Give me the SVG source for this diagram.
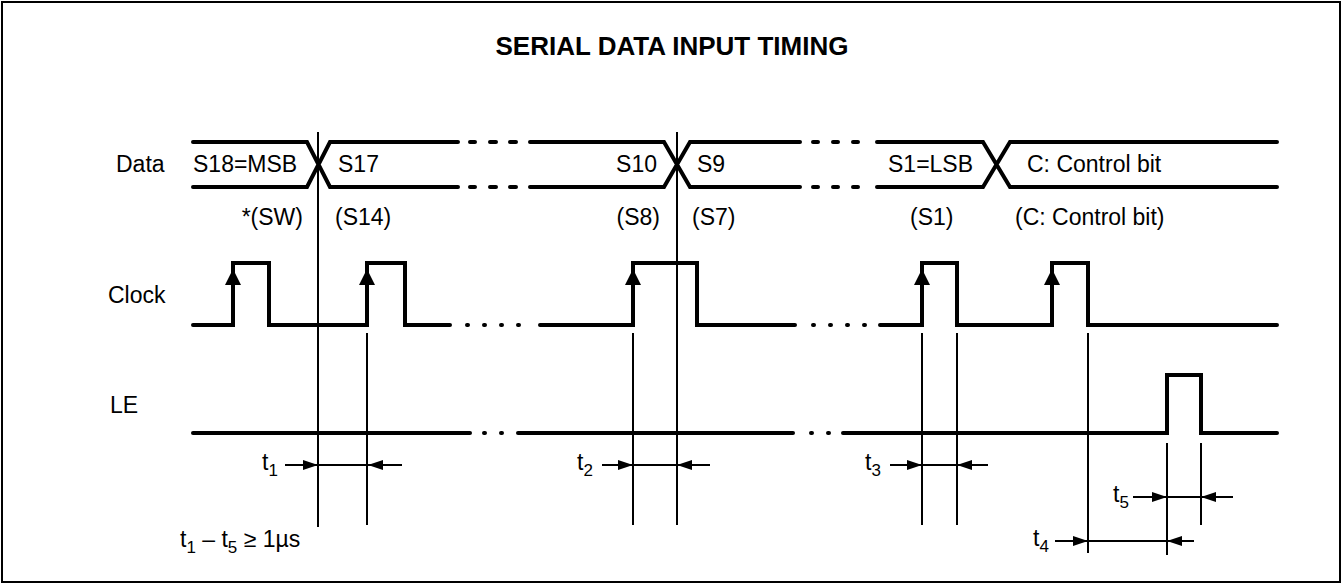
<svg xmlns="http://www.w3.org/2000/svg" xmlns:xlink="http://www.w3.org/1999/xlink" width="1343" height="585" viewBox="0 0 1343 585">
<style>
text{font-family:"Liberation Sans",Arial,Helvetica,sans-serif;font-size:23px;fill:#000}
.title{font-size:26px;font-weight:bold}
.sub{font-size:17px}
.w{stroke:#000;stroke-width:4;fill:none;stroke-linecap:round;stroke-linejoin:miter}
.d{stroke:#000;stroke-width:4;fill:none;stroke-linecap:round}
.t{stroke:#000;stroke-width:2;fill:none}
.a{stroke:#000;stroke-width:2;fill:none;marker-end:url(#ah)}
</style>
<defs>
<marker id="ah" viewBox="0 0 15 10" refX="15" refY="5" markerWidth="15" markerHeight="10" markerUnits="userSpaceOnUse" orient="auto"><path d="M0,0 L15,5 L0,10 z" fill="#000"/></marker>
<path id="up" d="M-8,16 L0,0 L8,16 z" fill="#000"/>
</defs>
<rect x="2" y="2" width="1338" height="580" fill="#fff" stroke="#000" stroke-width="2"/>
<text class="title" x="672" y="55" text-anchor="middle">SERIAL DATA INPUT TIMING</text>

<g id="data">
<text x="116" y="172">Data</text>
<path class="w" d="M193,142 H307 L330,187 H458 M193,187 H307 L330,142 H458"/>
<path class="d" d="M470,142 H475 M490,142 H496 M510,142 H516 M470,187 H475 M490,187 H496 M510,187 H516"/>
<path class="w" d="M530,142 H664 L690,187 H800 M530,187 H664 L690,142 H800"/>
<path class="d" d="M813,142 H818 M833,142 H838 M853,142 H858 M813,187 H818 M833,187 H838 M853,187 H858"/>
<path class="w" d="M877,142 H983 L1010,187 H1277 M877,187 H983 L1010,142 H1277"/>
<text x="193" y="172">S18=MSB</text>
<text x="338" y="172">S17</text>
<text x="657" y="172" text-anchor="end">S10</text>
<text x="697" y="172">S9</text>
<text x="888" y="172">S1=LSB</text>
<text x="1027" y="172">C: Control bit</text>
<text x="303" y="225" text-anchor="end">*(SW)</text>
<text x="335" y="225">(S14)</text>
<text x="660" y="225" text-anchor="end">(S8)</text>
<text x="692" y="225">(S7)</text>
<text x="910" y="225">(S1)</text>
<text x="1015" y="225">(C: Control bit)</text>
</g>

<g id="clock">
<text x="108" y="303">Clock</text>
<path class="w" d="M193,325 H233 V263 H269 V325 H367 V263 H405 V325 H450"/>
<path class="d" d="M467,325 H468 M484,325 H485 M501,325 H502 M518,325 H519"/>
<path class="w" d="M540,325 H633 V263 H697 V325 H795"/>
<path class="d" d="M813,325 H814 M830,325 H831 M847,325 H848 M864,325 H865"/>
<path class="w" d="M880,325 H922 V263 H957 V325 H1052 V263 H1088 V325 H1277"/>
<use xlink:href="#up" x="233" y="269"/>
<use xlink:href="#up" x="367" y="269"/>
<use xlink:href="#up" x="633" y="269"/>
<use xlink:href="#up" x="922" y="269"/>
<use xlink:href="#up" x="1052" y="269"/>
</g>

<g id="le">
<text x="110" y="413">LE</text>
<path class="w" d="M193,433 H470"/>
<path class="d" d="M484,433 H485 M501,433 H502"/>
<path class="w" d="M518,433 H793"/>
<path class="d" d="M811,433 H812 M828,433 H829"/>
<path class="w" d="M843,433 H1167 V375 H1201 V433 H1277"/>
</g>

<g id="connectors">
<path class="t" d="M318,132 V527 M677,132 V525 M367,333 V525 M633,333 V525 M922,333 V525 M957,333 V525 M1088,333 V553 M1167,443 V555 M1201,443 V525"/>
<path class="t" d="M318,465 H368 M633,465 H677 M922,465 H957 M1167,497 H1201 M1088,541 H1167"/>
<path class="a" d="M285,465 H318"/><path class="a" d="M402,465 H368"/>
<path class="a" d="M602,465 H633"/><path class="a" d="M710,465 H677"/>
<path class="a" d="M890,465 H922"/><path class="a" d="M988,465 H957"/>
<path class="a" d="M1133,497 H1167"/><path class="a" d="M1233,497 H1201"/>
<path class="a" d="M1055,541 H1088"/><path class="a" d="M1194,541 H1167"/>
</g>

<g id="timing-labels">
<text x="262" y="470">t<tspan class="sub" dy="6">1</tspan></text>
<text x="577" y="470">t<tspan class="sub" dy="6">2</tspan></text>
<text x="865" y="470">t<tspan class="sub" dy="6">3</tspan></text>
<text x="1113" y="502">t<tspan class="sub" dy="6">5</tspan></text>
<text x="1033" y="546">t<tspan class="sub" dy="6">4</tspan></text>
<text x="180" y="547">t<tspan class="sub" dy="6">1</tspan><tspan dy="-6"> – t</tspan><tspan class="sub" dy="6">5</tspan><tspan dy="-6"> ≥ 1µs</tspan></text>
</g>
</svg>
